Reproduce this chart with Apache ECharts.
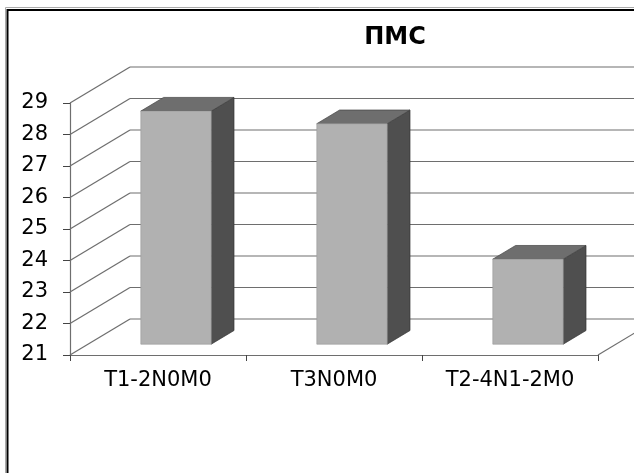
<!DOCTYPE html>
<html>
<head>
<meta charset="utf-8">
<script src="https://cdn.jsdelivr.net/npm/echarts@6/dist/echarts.min.js"></script>
<style>
html,body{margin:0;padding:0;background:#fff;}
#chart{width:634px;height:473px;}
</style>
</head>
<body>
<div id="chart"></div>
<script>
var titleText = 'ПМС';
var categories = ['T1-2N0M0', 'T3N0M0', 'T2-4N1-2M0'];
var values = [28.4, 28.0, 23.7];
var yTicks = [21, 22, 23, 24, 25, 26, 27, 28, 29];

var DEPTH_X = 60, DEPTH_Y = -36;   // full depth of the 3D box
var BAR_START = 0.3, BAR_DEPTH = 0.38, BAR_W = 0.4;
var GRID_COLOR = '#6e6e6e';

var chart = echarts.init(document.getElementById('chart'));

function wallsRender(params, api) {
  var cs = params.coordSys;
  var x0 = cs.x, x1 = cs.x + cs.width;
  var children = [];
  var st = {stroke: GRID_COLOR, lineWidth: 1.2};
  yTicks.forEach(function (v) {
    var y = api.coord([0, v])[1];
    children.push({type: 'line', shape: {x1: x0, y1: y, x2: x0 + DEPTH_X, y2: y + DEPTH_Y}, style: st});
    children.push({type: 'line', shape: {x1: x0 + DEPTH_X, y1: y + DEPTH_Y, x2: x1 + DEPTH_X, y2: y + DEPTH_Y}, style: st});
  });
  var yb = api.coord([0, yTicks[0]])[1];
  children.push({type: 'line', shape: {x1: x1, y1: yb, x2: x1 + DEPTH_X, y2: yb + DEPTH_Y}, style: st});
  return {type: 'group', children: children};
}

function barRender(params, api) {
  var idx = api.value(0), v = api.value(1);
  var top = api.coord([idx, v]);
  var base = api.coord([idx, yTicks[0]]);
  var band = api.size([1, 0])[0];
  var w = band * BAR_W;
  var ox = DEPTH_X * BAR_START, oy = DEPTH_Y * BAR_START;
  var dx = DEPTH_X * BAR_DEPTH, dy = DEPTH_Y * BAR_DEPTH;
  var l = top[0] + ox - w / 2, r = l + w;
  var t = top[1] + oy, b = base[1] + oy;
  return {type: 'group', children: [
    {type: 'polygon', shape: {points: [[r, t], [r + dx, t + dy], [r + dx, b + dy], [r, b]]},
      style: {fill: '#4f4f4f', stroke: '#333', lineWidth: 0.7}},
    {type: 'polygon', shape: {points: [[l, t], [l + dx, t + dy], [r + dx, t + dy], [r, t]]},
      style: {fill: '#6e6e6e', stroke: '#444', lineWidth: 0.7}},
    {type: 'rect', shape: {x: l, y: t, width: w, height: b - t},
      style: {fill: '#b1b1b1', stroke: '#999', lineWidth: 0.6}}
  ]};
}

var option = {
  backgroundColor: '#fff',
  animation: false,
  title: {
    text: titleText, left: 390, top: 21, textAlign: 'center',
    textStyle: {fontFamily: 'DejaVu Sans', fontWeight: 'bold', fontSize: 24, color: '#000'}
  },
  grid: {left: 70, right: 36, top: 103, bottom: 118},
  xAxis: {
    type: 'category', data: categories,
    axisLine: {show: true, lineStyle: {color: GRID_COLOR, width: 1.2}},
    axisTick: {show: true, length: 6, lineStyle: {color: '#444'}},
    axisLabel: {fontFamily: 'DejaVu Sans', fontSize: 21, color: '#000', margin: 15}
  },
  yAxis: {
    type: 'value', min: 21, max: 29, interval: 1,
    axisLine: {show: true, lineStyle: {color: GRID_COLOR, width: 1.2}},
    axisTick: {show: true, length: 7, lineStyle: {color: '#444'}},
    axisLabel: {fontFamily: 'DejaVu Sans', fontSize: 21, color: '#000', margin: 22},
    splitLine: {show: false}
  },
  graphic: [
    {type: 'line', shape: {x1: 5.5, y1: 7.5, x2: 634, y2: 7.5}, style: {stroke: '#aaa', lineWidth: 1}, z: 100},
    {type: 'line', shape: {x1: 5.5, y1: 7.5, x2: 5.5, y2: 473}, style: {stroke: '#aaa', lineWidth: 1}, z: 100},
    {type: 'line', shape: {x1: 7.5, y1: 10, x2: 634, y2: 10}, style: {stroke: '#000', lineWidth: 2}, z: 100},
    {type: 'line', shape: {x1: 7.5, y1: 9, x2: 7.5, y2: 473}, style: {stroke: '#000', lineWidth: 2}, z: 100}
  ],
  series: [
    {type: 'custom', renderItem: wallsRender, data: [[0, 21]], clip: false, z: 1, silent: true},
    {type: 'custom', renderItem: barRender, clip: false, z: 2,
      data: values.map(function (v, i) { return [i, v]; })}
  ]
};
chart.setOption(option);
</script>
</body>
</html>
